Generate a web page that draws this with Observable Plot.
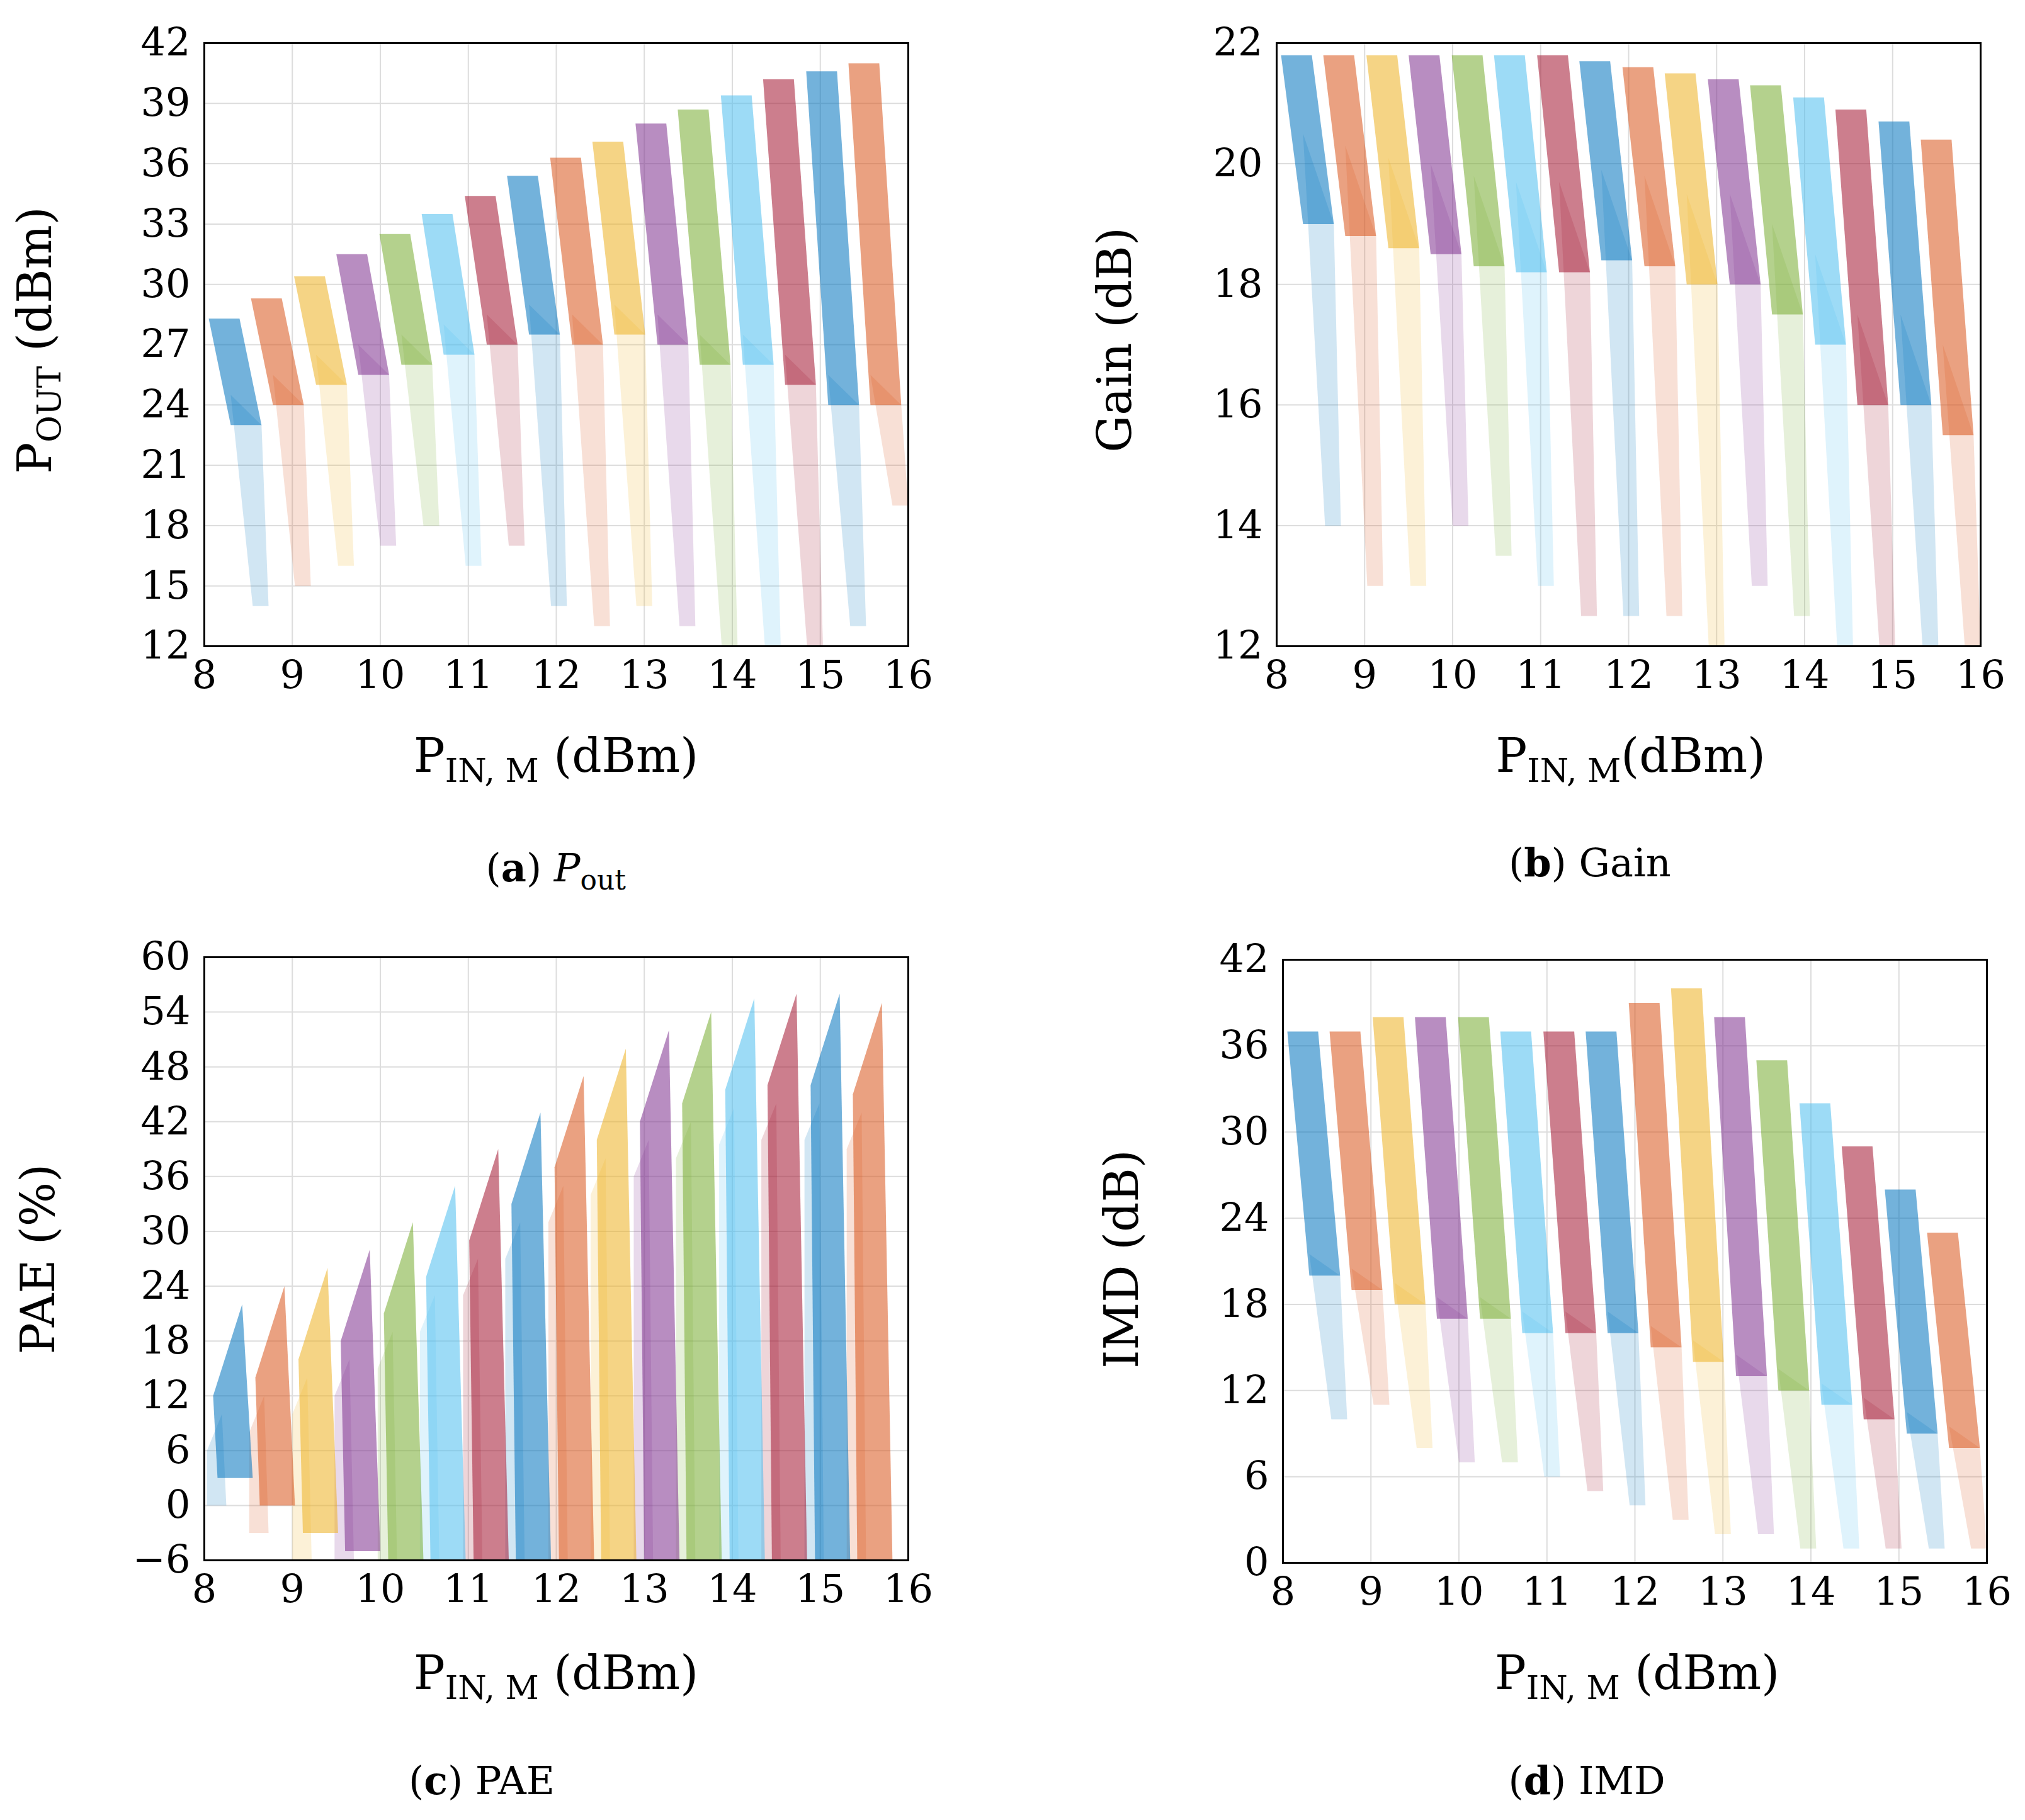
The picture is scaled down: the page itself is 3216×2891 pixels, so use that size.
<!DOCTYPE html>
<html><head><meta charset="utf-8">
<script src="https://cdn.jsdelivr.net/npm/d3@7"></script>
<script src="https://cdn.jsdelivr.net/npm/@observablehq/plot@0.6"></script>
<style>
body{margin:0;background:#fff;width:3216px;height:2891px;position:relative;font-family:"DejaVu Serif","Liberation Serif",serif;}
.p{position:absolute;}
.lab{position:absolute;font-size:74px;color:#000;white-space:nowrap;}
.lab sub{font-size:52px;}
.cap{position:absolute;font-size:62px;white-space:nowrap;}
.rot{transform:rotate(-90deg);transform-origin:center;}
</style></head><body>
<script>
const centers = [8.35,8.83,9.32,9.8,10.29,10.77,11.26,11.74,12.23,12.71,13.2,13.68,14.17,14.65,15.14,15.62];
const palette = ["#0072BD","#D95319","#EDB120","#7E2F8E","#77AC30","#4DBEEE","#A2142F"];
const poutTop = [28.3,29.3,30.4,31.5,32.5,33.5,34.4,35.4,36.3,37.1,38.0,38.7,39.4,40.2,40.6,41.0];
const poutCore = [23,24,25,25.5,26,26.5,27,27.5,27,27.5,27,26,26,25,24,24];
const poutTail = [14,15,16,17,18,16,17,14,13,14,13,12,12,12,13,19];
const gainTop = [21.8,21.8,21.8,21.8,21.8,21.8,21.8,21.7,21.6,21.5,21.4,21.3,21.1,20.9,20.7,20.4];
const gainCore = [19,18.8,18.6,18.5,18.3,18.2,18.2,18.4,18.3,18,18,17.5,17,16,16,15.5];
const gainTail = [14,13,13,14,13.5,13,12.5,12.5,12.5,12,13,12.5,12,12,12,12];
const paeTop = [22,24,26,28,31,35,39,43,47,50,52,54,55.5,56,56,55];
const paeCore = [3,0,-3,-5,-6,-6,-6,-6,-6,-6,-6,-6,-6,-6,-6,-6];
const paeTail = [0,-3,-6,-6,-6,-6,-6,-6,-6,-6,-6,-6,-6,-6,-6,-6];
const imdTop = [37,37,38,38,38,37,37,37,39,40,38,35,32,29,26,23];
const imdCore = [20,19,18,17,17,16,16,16,15,14,13,12,11,10,9,8];
const imdTail = [10,11,8,7,7,6,5,4,3,2,2,1,1,1,1,1];
const xTicks = [8,9,10,11,12,13,14,15,16];

function shapes(top, core, tail, vertical){
  const coreP=[], tailP=[];
  centers.forEach((c,i)=>{
    const col = palette[i%7];
    let cp, tp;
    if(vertical){
      cp=[[c-0.25,top[i]-10],[c+0.08,top[i]],[c+0.2,core[i]],[c-0.2,core[i]]];
      tp=[[c-0.32,top[i]-16],[c-0.15,top[i]-12],[c-0.1,tail[i]],[c-0.32,tail[i]]];
    } else {
      cp=[[c-0.3,top[i]],[c+0.05,top[i]],[c+0.3,core[i]],[c-0.05,core[i]]];
      tp=[[c-0.05,core[i]+1.5],[c+0.3,core[i]],[c+0.38,tail[i]],[c+0.2,tail[i]]];
    }
    cp.forEach(([x,y])=>coreP.push({x,y,k:i,col}));
    tp.forEach(([x,y])=>tailP.push({x,y,k:i,col}));
  });
  return {coreP, tailP};
}

function panel(left, top, yDomain, yTicks, data, vertical, fmt){
  const s = shapes(...data, vertical);
  const W=1500, H=1250, mL=324, mT=68, pw=1118, ph=958;
  const p = Plot.plot({
    width:W, height:H, marginLeft:mL, marginTop:mT, marginRight:W-mL-pw, marginBottom:H-mT-ph,
    style:{fontFamily:"DejaVu Serif, serif", fontSize:"62px", color:"#000", background:"transparent"},
    x:{domain:[8,16], ticks:xTicks, label:null, tickSize:0, tickPadding:22},
    y:{domain:yDomain, ticks:yTicks, label:null, tickSize:0, tickPadding:22, tickFormat:fmt},
    marks:[
      Plot.gridX(xTicks,{stroke:"#ddd", strokeOpacity:1, strokeWidth:2}),
      Plot.gridY(yTicks,{stroke:"#ddd", strokeOpacity:1, strokeWidth:2}),
      Plot.line(s.tailP,{x:"x",y:"y",z:"k",fill:"col",fillOpacity:0.18,stroke:"none",curve:"linear-closed"}),
      Plot.line(s.coreP,{x:"x",y:"y",z:"k",fill:"col",fillOpacity:0.55,stroke:"none",curve:"linear-closed"}),
      Plot.frame({stroke:"#000", strokeWidth:3})
    ]
  });
  p.classList.add("p"); p.style.left=left+"px"; p.style.top=top+"px";
  document.body.appendChild(p);
}
const minus = d => d<0 ? "−"+Math.abs(d) : String(d);
panel(0,0,[12,42],[12,15,18,21,24,27,30,33,36,39,42],[poutTop,poutCore,poutTail],false,minus);
panel(1703,0,[12,22],[12,14,16,18,20,22],[gainTop,gainCore,gainTail],false,minus);
panel(0,1452,[-6,60],[-6,0,6,12,18,24,30,36,42,48,54,60],[paeTop,paeCore,paeTail],true,minus);
panel(1713,1456,[0,42],[0,6,12,18,24,30,36,42],[imdTop,imdCore,imdTail],false,minus);

const labs = [
 ["P<sub>IN, M</sub> (dBm)",883,1205,false],["P<sub>OUT</sub> (dBm)",60,540,true],
 ["P<sub>IN, M</sub>(dBm)",2590,1205,false],["Gain (dB)",1770,540,true],
 ["P<sub>IN, M</sub> (dBm)",883,2662,false],["PAE (%)",60,2000,true],
 ["P<sub>IN, M</sub> (dBm)",2600,2662,false],["IMD (dB)",1780,2000,true]];
labs.forEach(([t,x,y,r])=>{const d=document.createElement("div");d.className="lab";d.innerHTML=t;document.body.appendChild(d);
 const w=d.offsetWidth,h=d.offsetHeight;d.style.left=(x-w/2)+"px";d.style.top=(y-h/2)+"px";if(r)d.classList.add("rot");});
const caps=[["(<b>a</b>) <i>P</i><sub style='font-size:44px'>out</sub>",883,1382],["(<b>b</b>) Gain",2525,1370],["(<b>c</b>) PAE",765,2828],["(<b>d</b>) IMD",2520,2828]];
caps.forEach(([t,x,y])=>{const d=document.createElement("div");d.className="cap";d.innerHTML=t;document.body.appendChild(d);
 const w=d.offsetWidth,h=d.offsetHeight;d.style.left=(x-w/2)+"px";d.style.top=(y-h/2)+"px";});
</script></body></html>
